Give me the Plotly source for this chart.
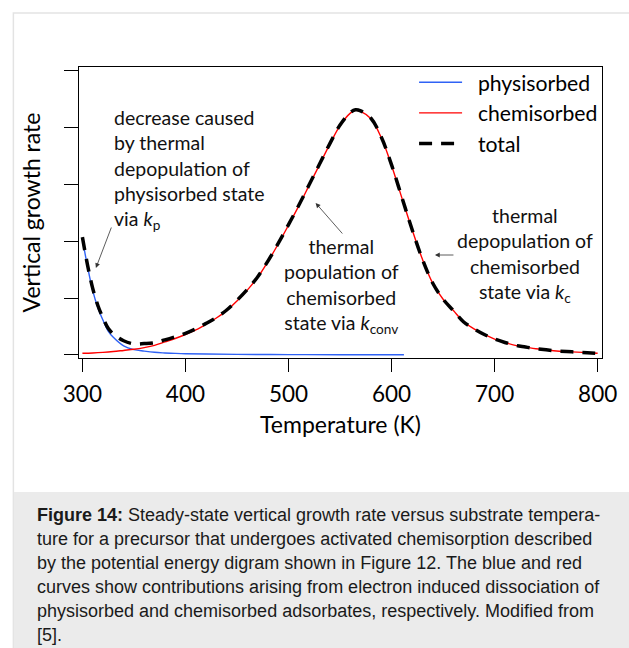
import plotly.graph_objects as go

# ---------------- data ----------------
temp_phys = [300, 305, 310, 315, 320, 325, 330, 340, 350, 360, 370, 380, 390,
             400, 420, 450, 500, 550, 612]
rate_phys = [2.04, 1.55, 1.13, 0.83, 0.61, 0.42, 0.31, 0.16, 0.095, 0.068, 0.047,
             0.036, 0.028, 0.022, 0.016, 0.011, 0.007, 0.005, 0.004]

temp_chem = [300, 310, 320, 330, 340, 350, 360, 370, 380, 390, 400, 410, 420, 430,
             440, 450, 460, 470, 480, 490, 500, 510, 520, 530, 540, 550, 560, 565,
             570, 580, 590, 600, 610, 620, 630, 640, 650, 660, 670, 680, 690, 700,
             710, 720, 730, 740, 750, 760, 770, 780, 790, 800]
rate_chem = [0.03, 0.035, 0.045, 0.06, 0.08, 0.10, 0.13, 0.17, 0.23, 0.29, 0.36,
             0.44, 0.54, 0.65, 0.78, 0.95, 1.14, 1.36, 1.64, 1.95, 2.28, 2.62, 2.98,
             3.34, 3.70, 4.03, 4.25, 4.30, 4.28, 4.15, 3.82, 3.33, 2.76, 2.20, 1.68,
             1.26, 0.98, 0.78, 0.58, 0.46, 0.36, 0.28, 0.22, 0.17, 0.14, 0.11, 0.09,
             0.07, 0.06, 0.05, 0.04, 0.03]

temp_total = [300, 305, 310, 315, 320, 325, 330, 340, 350, 360, 370, 380, 390, 400,
              410, 420, 430, 440, 450, 460, 470, 480, 490, 500, 510, 520, 530, 540,
              550, 560, 565, 570, 580, 590, 600, 610, 620, 630, 640, 650, 660, 670,
              680, 690, 700, 710, 720, 730, 740, 750, 760, 770, 780, 790, 800]
rate_total = [2.07, 1.58, 1.17, 0.87, 0.65, 0.47, 0.37, 0.25, 0.195, 0.20, 0.215,
              0.265, 0.32, 0.38, 0.46, 0.555, 0.66, 0.79, 0.96, 1.15, 1.37, 1.65,
              1.96, 2.29, 2.63, 2.99, 3.35, 3.71, 4.04, 4.26, 4.31, 4.29, 4.16, 3.83,
              3.34, 2.77, 2.20, 1.68, 1.26, 0.98, 0.78, 0.58, 0.46, 0.36, 0.28, 0.22,
              0.17, 0.14, 0.11, 0.09, 0.07, 0.06, 0.05, 0.04, 0.03]

series_names = ["physisorbed", "chemisorbed", "total"]
x_ticks = [300, 400, 500, 600, 700, 800]
y_ticks = [0, 1, 2, 3, 4, 5]

caption_lines = [
    "<b>Figure 14:</b> Steady-state vertical growth rate versus substrate tempera-",
    "ture for a precursor that undergoes activated chemisorption described",
    "by the potential energy digram shown in Figure 12. The blue and red",
    "curves show contributions arising from electron induced dissociation of",
    "physisorbed and chemisorbed adsorbates, respectively. Modified from",
    "[5].",
]

# ---------------- layout geometry (pixels) ----------------
W, H = 629, 648
L, T, R, B = 79, 67, 605, 358
FONT = "Lato"
GAP = "\u00a0\u00a0"   # small gap between legend sample and label


def px_x(px):
    return (px - L) / (R - L)


def px_y(py):
    return (B - py) / (B - T)


fig = go.Figure()
fig.add_trace(go.Scatter(x=temp_phys, y=rate_phys, mode="lines", name=GAP + series_names[0],
                         line=dict(color="#2f62f5", width=1.4, shape="spline")))
fig.add_trace(go.Scatter(x=temp_chem, y=rate_chem, mode="lines", name=GAP + series_names[1],
                         line=dict(color="#ff0000", width=1.4, shape="spline")))
fig.add_trace(go.Scatter(x=temp_total, y=rate_total, mode="lines", name=GAP + series_names[2],
                         line=dict(color="black", width=3.5, dash="13px,9px",
                                   shape="spline")))

annos = []
# text annotations
annos.append(dict(x=px_x(112), y=px_y(104), xref="paper", yref="paper",
                  xanchor="left", yanchor="top", align="left", showarrow=False,
                  text="decrease caused<br>by thermal<br>depopulation of<br>physisorbed state<br>via <i>k</i><sub>p</sub>",
                  font=dict(family=FONT, size=19.5, color="#111")))
annos.append(dict(x=px_x(343), y=px_y(233), xref="paper", yref="paper",
                  xanchor="center", yanchor="top", align="center", showarrow=False,
                  text="thermal<br>population of<br>chemisorbed<br>state via <i>k</i><sub>conv</sub>",
                  font=dict(family=FONT, size=19.5, color="#111")))
annos.append(dict(x=px_x(528), y=px_y(202), xref="paper", yref="paper",
                  xanchor="center", yanchor="top", align="center", showarrow=False,
                  text="thermal<br>depopulation of<br>chemisorbed<br>state via <i>k</i><sub>c</sub>",
                  font=dict(family=FONT, size=19.5, color="#111")))
# arrows
for hx, hy, tx, ty in [(96, 268, 112, 226), (317, 203, 345, 235), (437, 255, 457, 255)]:
    annos.append(dict(x=px_x(hx), y=px_y(hy), xref="paper", yref="paper",
                      ax=tx - hx, ay=ty - hy, text="", showarrow=True,
                      arrowhead=2, arrowsize=1.2, arrowwidth=0.8, arrowcolor="#333"))
# caption
for i, line in enumerate(caption_lines):
    annos.append(dict(x=px_x(35), y=px_y(515 + 24 * i), xref="paper", yref="paper",
                      xanchor="left", yanchor="middle", showarrow=False, text=line,
                      font=dict(family="Liberation Sans, Arial", size=18, color="#1a1a1a")))

shapes = [
    dict(type="rect", xref="paper", yref="paper", layer="below",
         x0=px_x(13), x1=px_x(660), y0=px_y(13), y1=px_y(700),
         line=dict(color="#e3e3e3", width=1.5), fillcolor="rgba(0,0,0,0)"),
    dict(type="rect", xref="paper", yref="paper", layer="below",
         x0=px_x(13.5), x1=px_x(660), y0=px_y(492), y1=px_y(700),
         line=dict(width=0), fillcolor="#ebebeb"),
]

fig.update_layout(
    width=W, height=H,
    margin=dict(l=L, r=W - R, t=T, b=H - B, pad=0),
    paper_bgcolor="white", plot_bgcolor="white",
    font=dict(family=FONT, size=20, color="black"),
    showlegend=True,
    legend=dict(x=px_x(416), y=px_y(62), xanchor="left", yanchor="top",
                bgcolor="rgba(0,0,0,0)", borderwidth=0, itemwidth=43,
                font=dict(family=FONT, size=21.2, color="black"),
                tracegroupgap=0),
    annotations=annos,
    shapes=shapes,
    xaxis=dict(range=[296.7, 804.2], tickvals=x_ticks, ticks="outside", ticklen=13,
               tickwidth=1, tickcolor="black", showline=True, linecolor="black",
               linewidth=1, mirror=True, showgrid=False, zeroline=False,
               ticklabelstandoff=3,
               tickfont=dict(family=FONT, size=22.5, color="black"),
               title=dict(text="Temperature (K)", standoff=10,
                          font=dict(family=FONT, size=23, color="black"))),
    yaxis=dict(range=[-0.053, 5.06], tickvals=y_ticks, ticks="outside", ticklen=14,
               tickwidth=1, tickcolor="black", showline=True, linecolor="black",
               linewidth=1, mirror=True, showgrid=False, zeroline=False,
               showticklabels=False,
               title=dict(text="Vertical growth rate", standoff=16,
                          font=dict(family=FONT, size=23, color="black"))),
)

fig.write_html("out.html", config={"displayModeBar": False},
               post_script="document.body.style.margin='0px';")
